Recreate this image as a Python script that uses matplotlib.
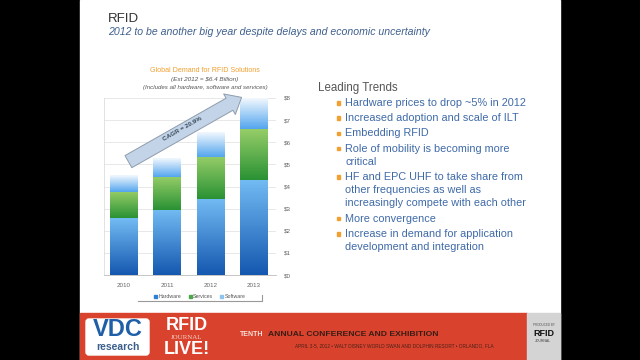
import numpy as np
import matplotlib
matplotlib.use("Agg")
import matplotlib.pyplot as plt
import matplotlib.patches as mpatches
from matplotlib.colors import LinearSegmentedColormap

plt.rcParams['font.family'] = ['Liberation Sans', 'DejaVu Sans']

years = ["2010", "2011", "2012", "2013"]
hardware = [2.56, 2.95, 3.45, 4.3]
services = [1.2, 1.5, 1.9, 2.3]
software = [0.75, 0.85, 1.1, 1.4]
yticks = [0, 1, 2, 3, 4, 5, 6, 7, 8]
ylabels = ["$0", "$1", "$2", "$3", "$4", "$5", "$6", "$7", "$8"]

trends = [
    ["Hardware prices to drop ~5% in 2012"],
    ["Increased adoption and scale of ILT"],
    ["Embedding RFID"],
    ["Role of mobility is becoming more", "critical"],
    ["HF and EPC UHF to take share from", "other frequencies as well as",
     "increasingly compete with each other"],
    ["More convergence"],
    ["Increase in demand for application", "development and integration"],
]

fig = plt.figure(figsize=(6.4, 3.6), dpi=100, facecolor="black")

# slide background in pixel coords
bg = fig.add_axes([0, 0, 1, 1])
bg.set_xlim(0, 640)
bg.set_ylim(360, 0)
bg.axis("off")
bg.add_patch(mpatches.Rectangle((80, 0), 480, 360, color="white", zorder=0))

bg.text(108, 19, "RFID", fontsize=9.5, color="#333333", va="center")
bg.text(108, 32, "2012 to be another big year despite delays and economic uncertainty",
        fontsize=7.6, style="italic", color="#3e5f8c", va="center")

bg.text(318, 88, "Leading Trends", fontsize=8.3, color="#555555", va="center")
y = 103
for item in trends:
    bg.add_patch(mpatches.Rectangle((336.5, y - 1.8), 3.6, 3.6, color="#f0a030"))
    for line in item:
        bg.text(345, y, line, fontsize=7.8, color="#3f6aa8", va="center")
        y += 13.2
    y += 2

# footer
bg.add_patch(mpatches.Rectangle((80, 313), 447, 47, color="#d9432d", zorder=1))
bg.add_patch(mpatches.Rectangle((527, 313), 33, 47, color="#d4d4d4", zorder=1))
bg.add_patch(mpatches.FancyBboxPatch((86, 319), 63, 36, boxstyle="round,pad=0,rounding_size=3",
                                     color="white", zorder=2))
bg.text(117.5, 330, "VDC", fontsize=17, fontweight="bold", color="#1e5fa8",
        ha="center", va="center", zorder=3)
bg.text(117.5, 347, "research", fontsize=7.5, fontweight="bold", color="#3b5f8a",
        ha="center", va="center", zorder=3)
bg.text(187, 325, "RFID", fontsize=13, fontweight="bold", color="white",
        ha="center", va="center", zorder=3)
bg.text(187, 337.5, "JOURNAL", fontsize=5, family="Liberation Serif", color="#f4d0c8",
        ha="center", va="center", zorder=3)
bg.text(187, 349, "LIVE!", fontsize=13, fontweight="bold", color="white",
        ha="center", va="center", zorder=3)
bg.text(240, 335, "TENTH", fontsize=5, fontweight="bold", color="#f8e0d8", va="center", zorder=3)
bg.text(268, 335, "ANNUAL CONFERENCE AND EXHIBITION", fontsize=6.1, fontweight="bold",
        color="#3a1c14", va="center", zorder=3)
bg.text(295, 346, "APRIL 3-5, 2012 \u2022 WALT DISNEY WORLD SWAN AND DOLPHIN RESORT \u2022 ORLANDO, FLA",
        fontsize=3.4, color="#4a2018", va="center", zorder=3)
bg.text(543.5, 325, "PRODUCED BY", fontsize=2.2, color="#555555", ha="center", va="center", zorder=3)
bg.text(543.5, 334, "RFID", fontsize=6.5, fontweight="bold", color="#111111", ha="center", va="center", zorder=3)
bg.text(543.5, 341, "JOURNAL", fontsize=2.5, color="#444444", ha="center", va="center", zorder=3)

# chart titles
bg.text(205, 70, "Global Demand for RFID Solutions", fontsize=5.1, color="#f0a030", ha="center", va="center")
bg.text(205, 79, "(Est 2012 = $6.4 Billion)", fontsize=4.6, style="italic", color="#555555",
        ha="center", va="center")
bg.text(205, 87, "(Includes all hardware, software and services)", fontsize=4.4, style="italic",
        color="#555555", ha="center", va="center")
bg.plot([138, 262, 262], [301, 301, 295], color="#999999", lw=0.8)

# chart
ax = fig.add_axes([104 / 640, 1 - 275 / 360, 172 / 640, 177 / 360])
ax.patch.set_alpha(0)
x = np.arange(len(years))
w = 0.64


def grad_bars(container, c_bottom, c_top):
    cmap = LinearSegmentedColormap.from_list("g", [c_bottom, c_top])
    for rect in container:
        x0, y0 = rect.get_x(), rect.get_y()
        img = ax.imshow(np.linspace(0, 1, 64).reshape(-1, 1), cmap=cmap, origin="lower",
                        extent=[x0, x0 + rect.get_width(), y0, y0 + rect.get_height()],
                        aspect="auto", zorder=3)
        img.set_clip_path(rect)


b1 = ax.bar(x, hardware, w, color="#2f7fd4", zorder=2)
b2 = ax.bar(x, services, w, bottom=hardware, color="#4aa848", zorder=2)
bot3 = [h + s for h, s in zip(hardware, services)]
b3 = ax.bar(x, software, w, bottom=bot3, color="#8cc4f4", zorder=2)
grad_bars(b1, "#1558b0", "#72bbf3")
grad_bars(b2, "#2a9234", "#96cd68")
grad_bars(b3, "#54a6ee", "#f2f8fe")

ax.set_xlim(-0.46, 3.51)
ax.set_ylim(0, 8)
ax.set_yticks(yticks)
ax.set_yticklabels(ylabels)
ax.yaxis.tick_right()
ax.grid(axis="y", color="#e4e4e4", lw=0.6, zorder=0)
ax.set_xticks(x)
ax.set_xticklabels(years)
ax.tick_params(length=0, labelsize=4.5, labelcolor="#666666")
ax.tick_params(axis="y", pad=6)
ax.tick_params(axis="x", pad=6)
for s in ["top", "right"]:
    ax.spines[s].set_visible(False)
ax.spines["left"].set_color("#dddddd")
ax.spines["bottom"].set_color("#bbbbbb")
ax.spines["left"].set_linewidth(0.6)
ax.spines["bottom"].set_linewidth(0.6)

handles = [mpatches.Patch(color="#2f7fd4"), mpatches.Patch(color="#4aa848"),
           mpatches.Patch(color="#8cc4f4")]
fig.legend(handles, ["Hardware", "Services", "Software"], loc="center",
           bbox_to_anchor=(200 / 640, 1 - 297 / 360), ncol=3, fontsize=3.8, frameon=False,
           handlelength=0.6, handleheight=0.6, handletextpad=0.3, columnspacing=1.3,
           labelcolor="#555555")

# CAGR arrow
ax.annotate("", xy=(244, 360 - 96), xytext=(126, 360 - 163), xycoords="figure pixels",
            arrowprops=dict(arrowstyle="simple,head_length=1.0,head_width=1.7,tail_width=1.0",
                            fc="#c3d4e8", ec="#8e9cac", lw=0.7), zorder=5)
ax.text(182, 360 - 129, "CAGR = 20.9%", transform=None, fontsize=4.6, fontweight="bold",
        color="#3a4a5c", rotation=29.5, ha="center", va="center", zorder=6)

fig.savefig("out.png", dpi=100, facecolor=fig.get_facecolor())
